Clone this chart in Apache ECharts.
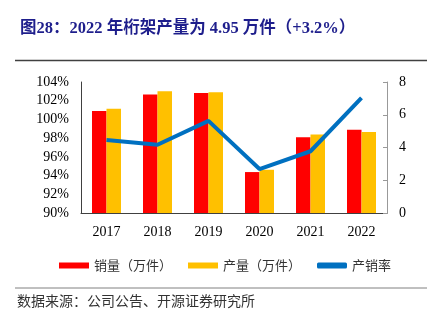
<!DOCTYPE html>
<html>
<head>
<meta charset="utf-8">
<script src="https://cdn.jsdelivr.net/npm/echarts@6/dist/echarts.min.js"></script>
<style>
html,body{margin:0;padding:0;background:#fff;}
#c{width:435px;height:325px;}
</style>
</head>
<body>
<div id="c"></div>
<script>
var years = ['2017', '2018', '2019', '2020', '2021', '2022'];
var sales = [6.23, 7.23, 7.33, 2.50, 4.63, 5.08];
var production = [6.37, 7.43, 7.37, 2.64, 4.80, 4.95];
var ratio = [0.978, 0.973, 0.9985, 0.947, 0.966, 1.023];
var seriesNames = ['销量（万件）', '产量（万件）', '产销率'];
var titleText = '图28：2022 年桁架产量为 4.95 万件（+3.2%）';
var sourceText = '数据来源：公司公告、开源证券研究所';

var serif = '"Liberation Serif", "Times New Roman", "Noto Sans CJK SC", serif';
var chart = echarts.init(document.getElementById('c'), null, {renderer: 'canvas'});
chart.setOption({
  animation: false,
  backgroundColor: '#fff',
  title: {
    text: titleText,
    left: 15,
    top: 15,
    textStyle: {fontFamily: serif, fontSize: 16.5, fontWeight: 'bold', color: '#1e1e8c'}
  },
  graphic: [
    {type: 'line', shape: {x1: 15, y1: 60.5, x2: 427, y2: 60.5}, style: {stroke: '#404040', lineWidth: 1.5}},
    {type: 'line', shape: {x1: 15, y1: 288, x2: 427, y2: 288}, style: {stroke: '#808080', lineWidth: 1}},
    {type: 'text', left: 17, top: 294, style: {text: sourceText, font: '14px "Noto Sans CJK SC"', fill: '#333', letterSpacing: 0.5}}
  ],
  legend: {
    left: 54,
    top: 254,
    itemGap: 16,
    itemWidth: 30,
    itemHeight: 6,
    textStyle: {fontFamily: '"Noto Sans CJK SC"', fontSize: 13, color: '#333', padding: [0, 0, 0, 0]},
    data: [
      {name: seriesNames[0], icon: 'rect'},
      {name: seriesNames[1], icon: 'rect'},
      {name: seriesNames[2], icon: 'roundRect'}
    ]
  },
  grid: {left: 81, right: 48, top: 82, bottom: 112, containLabel: false},
  xAxis: {
    type: 'category',
    data: years,
    axisLine: {lineStyle: {color: '#404040', width: 1}},
    axisTick: {inside: true, length: 4, lineStyle: {color: '#808080'}},
    axisLabel: {fontFamily: serif, fontSize: 14, color: '#000', margin: 12}
  },
  yAxis: [
    {
      type: 'value',
      min: 0.90,
      max: 1.04,
      interval: 0.02,
      position: 'left',
      axisLine: {show: true, lineStyle: {color: '#404040'}},
      axisTick: {show: false},
      splitLine: {show: false},
      axisLabel: {
        fontFamily: serif, fontSize: 14, color: '#000', margin: 12,
        formatter: function (v) { return Math.round(v * 100) + '%'; }
      }
    },
    {
      type: 'value',
      min: 0,
      max: 8,
      interval: 2,
      position: 'right',
      axisLine: {show: true, lineStyle: {color: '#999'}},
      axisTick: {show: true, inside: true, length: 4, lineStyle: {color: '#999'}},
      splitLine: {show: false},
      axisLabel: {fontFamily: serif, fontSize: 14, color: '#000', margin: 12}
    }
  ],
  series: [
    {
      name: seriesNames[0], type: 'bar', yAxisIndex: 1, data: sales,
      barWidth: 14.5, barGap: '0%',
      itemStyle: {color: '#FF0000'}
    },
    {
      name: seriesNames[1], type: 'bar', yAxisIndex: 1, data: production,
      barWidth: 14.5, barGap: '0%',
      itemStyle: {color: '#FFC000'}
    },
    {
      name: seriesNames[2], type: 'line', yAxisIndex: 0, data: ratio,
      symbol: 'none',
      lineStyle: {color: '#0070C0', width: 4},
      itemStyle: {color: '#0070C0'}
    }
  ]
});
</script>
</body>
</html>
